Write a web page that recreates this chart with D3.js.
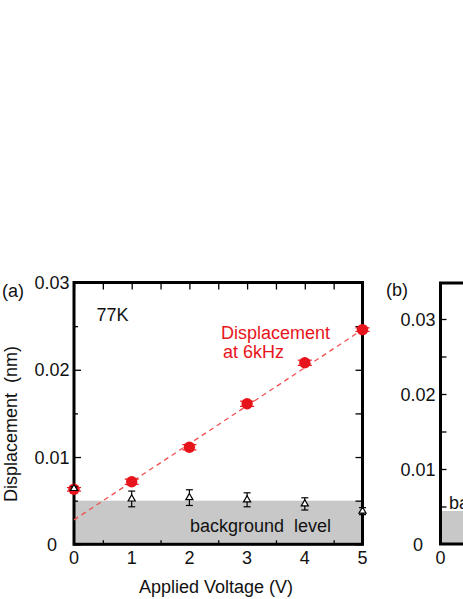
<!DOCTYPE html>
<html><head><meta charset="utf-8">
<script src="https://cdn.jsdelivr.net/npm/d3@7"></script>
<style>
html,body{margin:0;padding:0;background:#fff;}
svg{display:block;font-family:"Liberation Sans",Arial,sans-serif;}
text{white-space:pre;}
</style></head>
<body><svg id="c" width="463" height="599"></svg>
<script>
// ---- data ----
const voltages = [0, 1, 2, 3, 4, 5];
const displacement6k = [0.0063, 0.00717, 0.01112, 0.0161, 0.0208, 0.0246];
const displacementErr = [0.0002, 0.0003, 0.0003, 0.0003, 0.0003, 0.0002];
const backgroundVals = [0.0064, 0.0052, 0.00535, 0.0051, 0.00463, 0.0038];
const backgroundErr = [0.0002, 0.0009, 0.0009, 0.0008, 0.0007, 0.0004];
const fitX = [0, 5];
const fitY = [0.0028, 0.0246];
const backgroundLevelA = 0.005;
const backgroundLevelB = 0.0044;
const yTickLabelsA = ["0", "0.01", "0.02", "0.03"];
const yTickValsA = [0, 0.01, 0.02, 0.03];
const xTickVals = [0, 1, 2, 3, 4, 5];
const yTickLabelsB = ["0", "0.01", "0.02", "0.03"];
const yTickValsB = [0, 0.01, 0.02, 0.03];

const svg = d3.select("#c");
const FS = 18;

// ---- panel (a) ----
const x = d3.scaleLinear().domain([0, 5]).range([74, 362.5]);
const y = d3.scaleLinear().domain([0, 0.03]).range([544.3, 282.5]);

const gA = svg.append("g");
// background level band
gA.append("rect").attr("x", x(0)).attr("y", y(backgroundLevelA))
  .attr("width", x(5) - x(0)).attr("height", y(0) - y(backgroundLevelA))
  .attr("fill", "#c8c8c8");

gA.append("text").attr("x", 190).attr("y", 531.5).attr("font-size", FS)
  .attr("fill", "#111").text("background  level");

// ticks via d3 axes
const minorY = d3.range(0, 0.0301, 0.005);
const halfX = d3.range(0, 5.01, 0.5);
function noText(g){ g.selectAll("text").remove(); g.select(".domain").remove(); g.selectAll("line").attr("stroke","#000").attr("stroke-width",1.3); }
// left: major 7 inward, minor 4 inward
gA.append("g").attr("transform", `translate(${x(0)},0)`)
  .call(d3.axisRight(y).tickValues(minorY.filter((d,i)=>i%2===1)).tickSize(4)).call(noText);
gA.append("g").attr("transform", `translate(${x(0)},0)`)
  .call(d3.axisRight(y).tickValues(yTickValsA).tickSize(7)).call(noText);
// right
gA.append("g").attr("transform", `translate(${x(5)},0)`)
  .call(d3.axisLeft(y).tickValues(minorY).tickSize(7)).call(noText);
// top
gA.append("g").attr("transform", `translate(0,${y(0.03)})`)
  .call(d3.axisBottom(x).tickValues(halfX).tickSize(7)).call(noText);
// bottom
gA.append("g").attr("transform", `translate(0,${y(0)})`)
  .call(d3.axisTop(x).tickValues(halfX.filter((d,i)=>i%2===1)).tickSize(4)).call(noText);

// frame
gA.append("rect").attr("x", x(0)).attr("y", y(0.03))
  .attr("width", x(5) - x(0)).attr("height", y(0) - y(0.03))
  .attr("fill", "none").attr("stroke", "#000").attr("stroke-width", 3);

// tick labels
gA.selectAll(".yl").data(yTickValsA).join("text")
  .attr("x", 52).attr("y", d => y(d) + 6.5).attr("text-anchor", "middle")
  .attr("font-size", FS).attr("fill", "#111").text((d,i) => yTickLabelsA[i]);
gA.selectAll(".xl").data(xTickVals).join("text")
  .attr("x", d => x(d)).attr("y", 563.5).attr("text-anchor", "middle")
  .attr("font-size", FS).attr("fill", "#111").text(d => d);

// fit line
gA.append("line").attr("x1", x(fitX[0])).attr("y1", y(fitY[0]))
  .attr("x2", x(fitX[1])).attr("y2", y(fitY[1]))
  .attr("stroke", "#f05050").attr("stroke-width", 1.3).attr("stroke-dasharray", "5,4");

// red points with error bars
const red = "#e8141c";
voltages.forEach((v, i) => {
  const cx = x(v), y1 = y(displacement6k[i] + displacementErr[i]), y2 = y(displacement6k[i] - displacementErr[i]);
  gA.append("line").attr("x1", cx).attr("x2", cx).attr("y1", y1).attr("y2", y2).attr("stroke", red).attr("stroke-width", 1.2);
  [y1, y2].forEach(yy => gA.append("line").attr("x1", cx - 7).attr("x2", cx + 7).attr("y1", yy).attr("y2", yy).attr("stroke", red).attr("stroke-width", 1.2));
});
gA.selectAll(".rp").data(voltages).join("circle")
  .attr("cx", d => x(d)).attr("cy", (d,i) => y(displacement6k[i])).attr("r", 5.7).attr("fill", red);

// black triangles with error bars
voltages.forEach((v, i) => {
  const cx = x(v), y1 = y(backgroundVals[i] + backgroundErr[i]), y2 = y(backgroundVals[i] - backgroundErr[i]);
  gA.append("line").attr("x1", cx).attr("x2", cx).attr("y1", y1).attr("y2", y2).attr("stroke", "#000").attr("stroke-width", 1.2);
  [y1, y2].forEach(yy => gA.append("line").attr("x1", cx - 3.5).attr("x2", cx + 3.5).attr("y1", yy).attr("y2", yy).attr("stroke", "#000").attr("stroke-width", 1.2));
});
const tri = d3.symbol().type(d3.symbolTriangle).size(22);
gA.selectAll(".tp").data(voltages).join("path")
  .attr("transform", (d,i) => `translate(${x(d)},${y(backgroundVals[i])})`)
  .attr("d", tri).attr("fill", "#fff").attr("stroke", "#000").attr("stroke-width", 1.2);

// annotations
gA.append("text").attr("x", 2).attr("y", 296.5).attr("font-size", FS).attr("fill", "#111").text("(a)");
gA.append("text").attr("x", 96.5).attr("y", 321).attr("font-size", FS).attr("fill", "#111").text("77K");
gA.append("text").attr("x", 221).attr("y", 338.5).attr("font-size", FS).attr("fill", red).text("Displacement");
gA.append("text").attr("x", 223).attr("y", 357.5).attr("font-size", FS).attr("fill", red).text("at 6kHz");
gA.append("text").attr("x", 216).attr("y", 592.7).attr("text-anchor", "middle").attr("font-size", FS).attr("fill", "#111").text("Applied Voltage (V)");
gA.append("text").attr("transform", "translate(16.5,502) rotate(-90)").attr("font-size", FS).attr("fill", "#111").text("Displacement  (nm)");

// ---- panel (b) ----
const xb = d3.scaleLinear().domain([0, 1]).range([440.5, 740]);
const yb = d3.scaleLinear().domain([0, 0.0348]).range([544, 283]);
const gB = svg.append("g");
gB.append("rect").attr("x", xb(0)).attr("y", yb(backgroundLevelB))
  .attr("width", 30).attr("height", yb(0) - yb(backgroundLevelB)).attr("fill", "#c8c8c8");
gB.append("text").attr("x", 449).attr("y", 508.5).attr("font-size", FS).attr("fill", "#111").text("background level");
gB.append("g").attr("transform", `translate(${xb(0)},0)`)
  .call(d3.axisRight(yb).tickValues(d3.range(0.005, 0.0348, 0.005)).tickSize(6)).call(noText);
gB.append("rect").attr("x", xb(0)).attr("y", yb(0.0348))
  .attr("width", 300).attr("height", yb(0) - yb(0.0348))
  .attr("fill", "none").attr("stroke", "#000").attr("stroke-width", 3);
gB.selectAll(".yl").data(yTickValsB).join("text")
  .attr("x", 418).attr("y", d => yb(d) + 6.5).attr("text-anchor", "middle")
  .attr("font-size", FS).attr("fill", "#111").text((d,i) => yTickLabelsB[i]);
gB.append("text").attr("x", xb(0)).attr("y", 563.5).attr("text-anchor", "middle")
  .attr("font-size", FS).attr("fill", "#111").text("0");
gB.append("text").attr("x", 386).attr("y", 296).attr("font-size", FS).attr("fill", "#111").text("(b)");
</script></body></html>
